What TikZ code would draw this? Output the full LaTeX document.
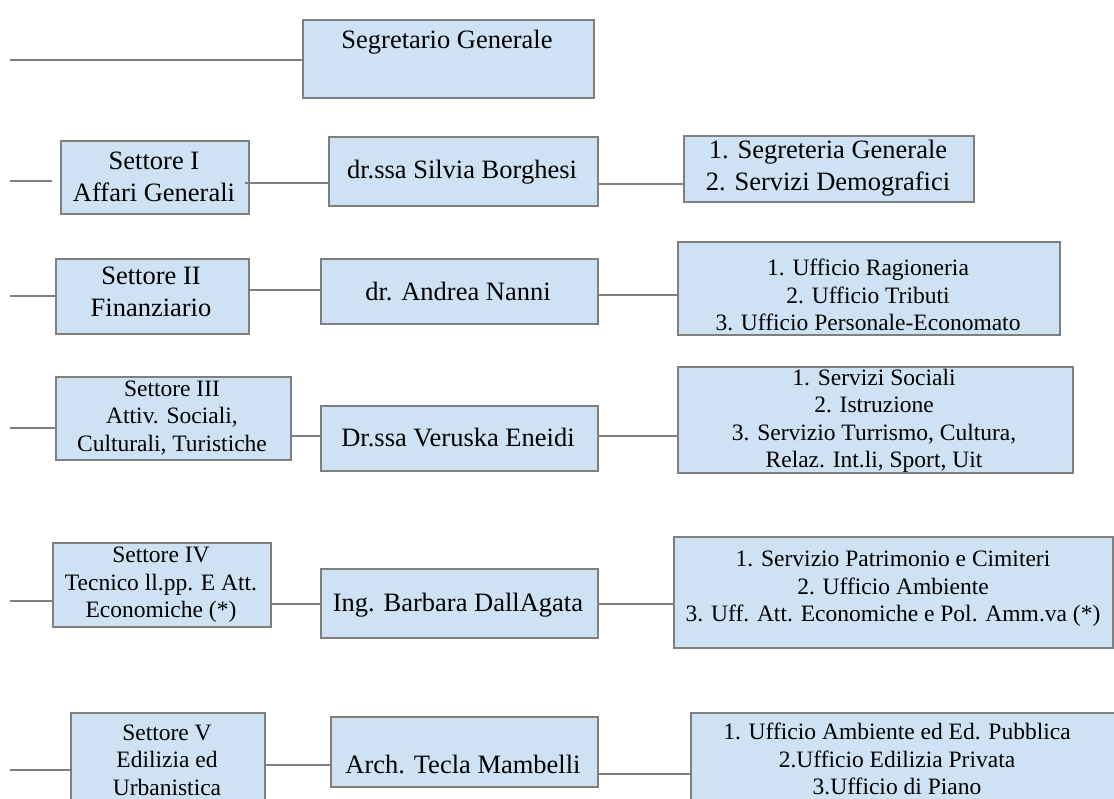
\documentclass[tikz,border=0pt]{standalone}
\usepackage{fontspec}
\setmainfont{Liberation Serif}
\usetikzlibrary{calc}
\definecolor{boxfill}{HTML}{CFE2F3}
\definecolor{edge}{HTML}{7F7F7F}
\tikzset{
  box/.style={draw=edge, fill=boxfill, line width=1.8pt, rectangle, inner sep=0pt},
  conn/.style={draw=edge, line width=1.8pt},
  big/.style={font=\fontsize{26.5}{32}\selectfont, align=center, inner sep=0pt},
  small/.style={font=\fontsize{23.5}{27.5}\selectfont, align=center, inner sep=0pt}
}
% \mkbox{name}{x1}{y1}{x2}{y2}
\newcommand{\mkbox}[5]{%
  \node[box, minimum width={(#4-#2)*1pt}, minimum height={(#5-#3)*1pt}, anchor=north west] (#1) at (#2,#3) {};}
\begin{document}
\begin{tikzpicture}[x=1pt, y=-1pt]
\useasboundingbox (0,0) rectangle (1114,799);
\clip (0,0) rectangle (1114,799);
% Row 0
\mkbox{sg}{302}{19}{593}{97}
\node[big] (sgt) at (447,42) {Segretario Generale};
\coordinate (l0) at (10,60);
\draw[conn] (l0) -- (l0 -| sg.west);
% Row 1
\mkbox{s1}{60}{140}{248}{213}
\node[big] (s1t) at (154,177) {Settore I\\Affari Generali};
\mkbox{p1}{328}{136}{597}{205}
\node[big] (p1t) at (462,172) {dr.ssa Silvia Borghesi};
\mkbox{u1}{683}{135}{973}{201}
\node[big] (u1t) at (828,168) {1. Segreteria Generale\\2. Servizi Demografici};
\coordinate (a1) at (10,181); \coordinate (b1) at (52,181);
\draw[conn] (a1) -- (b1);
\coordinate (c1) at (0,183);
\draw[conn] ($(c1 -| s1.east)+(-5,0)$) -- (c1 -| p1.west);
\coordinate (d1) at (0,184);
\draw[conn] (d1 -| p1.east) -- (d1 -| u1.west);
% Row 2
\mkbox{s2}{55}{258}{248}{333}
\node[big] (s2t) at (151,292) {Settore II\\Finanziario};
\mkbox{p2}{320}{258}{597}{323}
\node[big] (p2t) at (458,291) {dr. Andrea Nanni};
\mkbox{u2}{677}{241}{1059}{334}
\node[small] (u2t) at (868,295) {1. Ufficio Ragioneria\\2. Ufficio Tributi\\3. Ufficio Personale-Economato};
\coordinate (a2) at (10,296);
\draw[conn] (a2) -- (a2 -| s2.west);
\coordinate (c2) at (0,290);
\draw[conn] (c2 -| s2.east) -- (c2 -| p2.west);
\coordinate (d2) at (0,295);
\draw[conn] (d2 -| p2.east) -- (d2 -| u2.west);
% Row 3
\mkbox{s3}{55}{376}{290}{459}
\node[small] (s3t) at (172,418) {Settore III\\Attiv. Sociali,\\Culturali, Turistiche};
\mkbox{p3}{320}{405}{597}{470}
\node[big] (p3t) at (458,438) {Dr.ssa Veruska Eneidi};
\mkbox{u3}{677}{366}{1072}{472}
\node[small] (u3t) at (874,421) {1. Servizi Sociali\\2. Istruzione\\3. Servizio Turrismo, Cultura,\\Relaz. Int.li, Sport, Uit};
\coordinate (a3) at (10,428);
\draw[conn] (a3) -- (a3 -| s3.west);
\coordinate (c3) at (0,436);
\draw[conn] (c3 -| s3.east) -- (c3 -| p3.west);
\draw[conn] (c3 -| p3.east) -- (c3 -| u3.west);
% Row 4
\mkbox{s4}{52}{542}{270}{626}
\node[small] (s4t) at (161,585) {Settore IV\\Tecnico ll.pp. E Att.\\Economiche (*)};
\mkbox{p4}{320}{568}{597}{637}
\node[big] (p4t) at (458,605) {Ing. Barbara DallAgata};
\mkbox{u4}{673}{536}{1112}{647}
\node[small] (u4t) at (893,589) {1. Servizio Patrimonio e Cimiteri\\2. Ufficio Ambiente\\3. Uff. Att. Economiche e Pol. Amm.va (*)};
\coordinate (a4) at (10,601);
\draw[conn] (a4) -- (a4 -| s4.west);
\coordinate (c4) at (0,604);
\draw[conn] (c4 -| s4.east) -- (c4 -| p4.west);
\draw[conn] (c4 -| p4.east) -- (c4 -| u4.west);
% Row 5
\mkbox{s5}{70}{712}{264}{830}
\node[small] (s5t) at (167,760) {Settore V\\Edilizia ed\\Urbanistica};
\mkbox{p5}{330}{716}{597}{786}
\node[big] (p5t) at (463,764) {Arch. Tecla Mambelli};
\mkbox{u5}{690}{712}{1130}{830}
\node[small] (u5t) at (897,759) {1. Ufficio Ambiente ed Ed. Pubblica\\2.Ufficio Edilizia Privata\\3.Ufficio di Piano};
\coordinate (a5) at (10,770);
\draw[conn] (a5) -- (a5 -| s5.west);
\coordinate (c5) at (0,765);
\draw[conn] (c5 -| s5.east) -- (c5 -| p5.west);
\coordinate (d5) at (0,774);
\draw[conn] (d5 -| p5.east) -- (d5 -| u5.west);
\end{tikzpicture}
\end{document}
